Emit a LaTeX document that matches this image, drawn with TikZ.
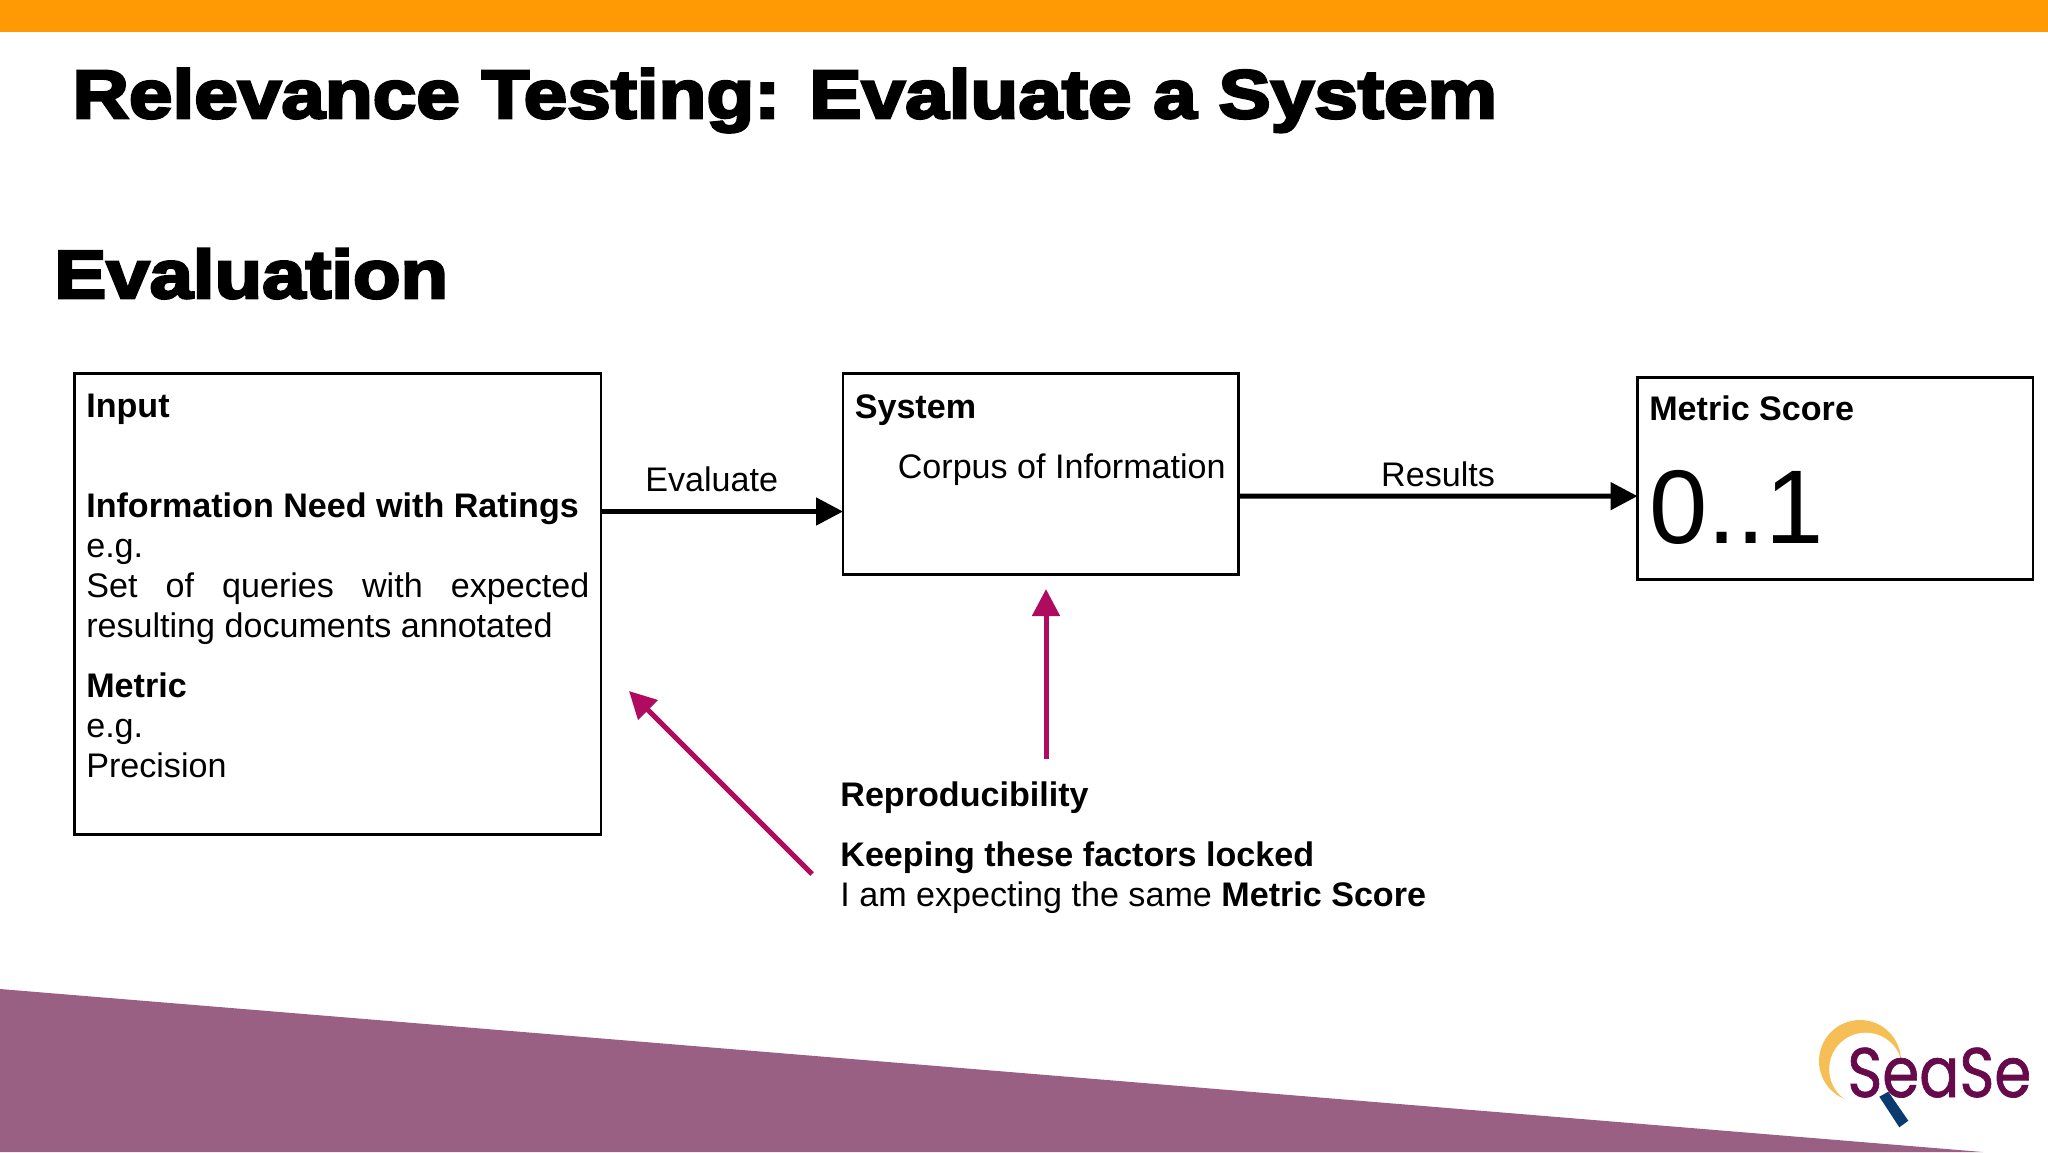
\documentclass[tikz,border=0pt]{standalone}
\usepackage{fontspec}
\setmainfont{Liberation Sans}
\newfontfamily\headfont[FakeBold=4,FakeStretch=1.145]{Liberation Sans Bold}
\newfontfamily\logofont[FakeBold=1,FakeStretch=0.85]{Poppins}
\usetikzlibrary{arrows.meta}
\definecolor{barorange}{HTML}{FF9A05}
\definecolor{bandpurple}{HTML}{9A6084}
\definecolor{pinkarrow}{HTML}{AF0C60}
\definecolor{logogold}{HTML}{F5BF55}
\definecolor{logoplum}{HTML}{660A4B}
\definecolor{logonavy}{HTML}{0B3A6E}
\begin{document}
\begin{tikzpicture}[x=0.5pt,y=-0.5pt,
			every node/.style={inner sep=0pt,font=\fontsize{17.05}{20}\selectfont},
			head/.style={anchor=base west,font=\headfont\fontsize{34}{40}\selectfont},
			box/.style={draw,line width=1.25pt,outer sep=0pt,anchor=north west,align=justify,inner xsep=5.9pt,inner ysep=9pt},
			flow/.style={line width=2.5pt,-{Triangle[length=13.5pt,width=13.5pt]}},
			remark/.style={line width=2.5pt,pinkarrow,-{Triangle[length=13.5pt,width=13.5pt]}},]
\useasboundingbox (0,0) rectangle (2048,1152);
\fill[barorange] (0,0) rectangle (2048,32);
\fill[bandpurple] (0,989) -- (1983,1152) -- (0,1152) -- cycle;
\node[head,font=\headfont\fontsize{34.2}{40}\selectfont] (title) at (72,118) {Relevance Testing: Evaluate a System};
\node[head] (section) at (54,298) {Evaluation};
\node[box,text width=251.5pt,minimum height=230.5pt] (input) at (74.5,373.5) {\textbf{Input}\\[30pt]
	\textbf{Information Need with Ratings}\\
	e.g.\\
	Set of queries with expected \mbox{resulting} documents annotated\\[10pt]
	\textbf{Metric}\\
	e.g.\\
	Precision\\[-1.3pt]
	\mbox{}};
\node[box,text width=186pt,minimum height=100.5pt] (system) at (843,373.5) {\textbf{System}\\[10pt]
	\hspace*{21.5pt}Corpus of Information\\[17.9pt]
	\mbox{}};
\node[box,text width=186pt,minimum height=101pt] (metric) at (1637.5,377.5) {\textbf{Metric Score}\\[24pt]
	{\fontsize{52.4}{54}\selectfont 0..1}\rule[-9pt]{0pt}{9pt}};
\draw[flow] ([yshift=46.25pt]input.east) -- node[midway,above=8.7pt,xshift=-5.2pt] (evaluate) {Evaluate} ([yshift=-18.75pt]system.west);
\draw[flow] ([yshift=-11pt]system.east) -- node[midway,above=3.2pt] (results) {Results} ([yshift=-8.75pt]metric.west);
\node[anchor=north west,align=left] (note) at (840,781) {\textbf{Reproducibility}\\[10pt]
	\textbf{Keeping these factors locked}\\
	I am expecting the same \textbf{Metric Score}};
\coordinate (upfoot) at (1046,759);
\coordinate (uphead) at (1046,589);
\coordinate (leftfoot) at (812,874);
\coordinate (lefthead) at (629,691);
\draw[remark] (upfoot) -- (uphead);
\draw[remark] (leftfoot) -- (lefthead);
\fill[logogold] (1860,1061) circle (41);
\fill[white] (1865.7,1069.2) circle (36.5);
\fill[logonavy] (1879.3,1096.7) -- (1888.3,1091.7) -- (1908.3,1120.7) -- (1899.3,1127.3) -- cycle;
\node[anchor=base west,text=logoplum,font=\logofont\fontsize{35}{40}\selectfont] (logo) at (1847,1097) {SeaSe};
\end{tikzpicture}
\end{document}
